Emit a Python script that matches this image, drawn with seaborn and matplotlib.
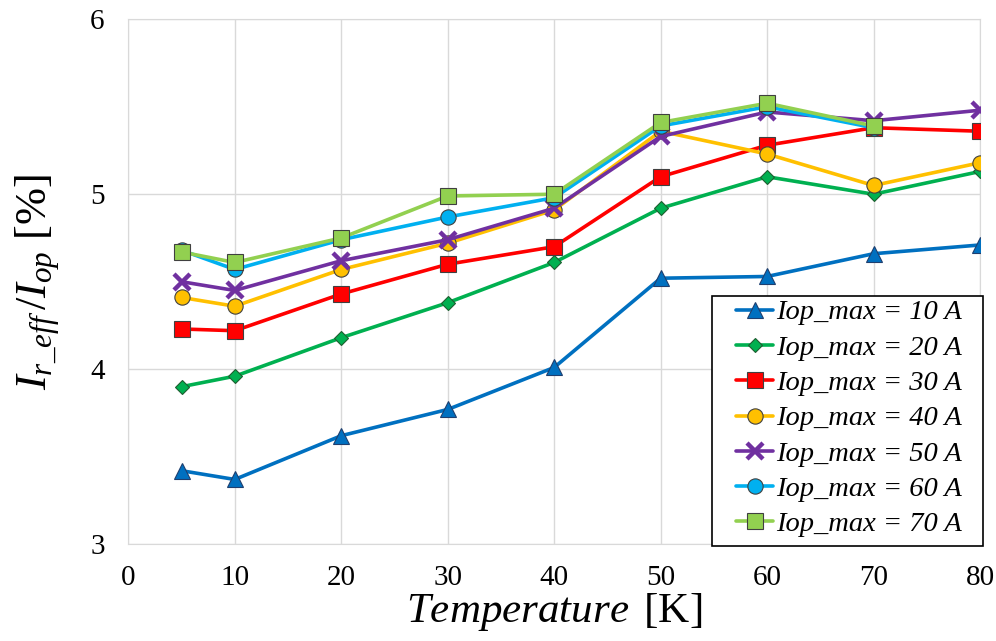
import numpy as np
import pandas as pd
import matplotlib
matplotlib.use("Agg")
import matplotlib.pyplot as plt
from matplotlib.patches import Rectangle
import seaborn as sns

# data
temps = [5, 10, 20, 30, 40, 50, 60, 70, 80]
iop_10 = [3.42, 3.37, 3.62, 3.77, 4.01, 4.52, 4.53, 4.66, 4.71]
iop_20 = [3.90, 3.96, 4.18, 4.38, 4.61, 4.92, 5.10, 5.00, 5.13]
iop_30 = [4.23, 4.22, 4.43, 4.60, 4.70, 5.10, 5.28, 5.38, 5.36]
iop_40 = [4.41, 4.36, 4.57, 4.72, 4.91, 5.36, 5.23, 5.05, 5.18]
iop_50 = [4.50, 4.45, 4.62, 4.74, 4.92, 5.33, 5.47, 5.42, 5.48]
iop_60 = [4.68, 4.57, 4.74, 4.87, 4.98, 5.39, 5.50, 5.38]
iop_70 = [4.67, 4.61, 4.75, 4.99, 5.00, 5.41, 5.52, 5.39]
labels = ["Iop_max = 10 A", "Iop_max = 20 A", "Iop_max = 30 A", "Iop_max = 40 A",
          "Iop_max = 50 A", "Iop_max = 60 A", "Iop_max = 70 A"]
series = [iop_10, iop_20, iop_30, iop_40, iop_50, iop_60, iop_70]

colors = ["#0070C0", "#00B050", "#FF0000", "#FFC000", "#7030A0", "#00B0F0", "#92D050"]
markers = ["^", "D", "s", "o", "x", "o", "s"]
msizes = [12, 7.5, 11, 11, 11, 11, 11]
mew = [0.8, 0.8, 0.8, 0.8, 3.2, 0.8, 0.8]
edges = ["#1F3F6F", "#1E5E30", "#404040", "#404040", "#7030A0", "#404040", "#404040"]

rows = []
for lab, vals in zip(labels, series):
    for t, v in zip(temps, vals):
        rows.append({"T": t, "val": v, "series": lab})
df = pd.DataFrame(rows)

sns.set_style("white")
plt.rcParams["font.family"] = ["Liberation Serif", "DejaVu Serif"]
plt.rcParams["mathtext.fontset"] = "custom"
plt.rcParams["mathtext.rm"] = "Liberation Serif"
plt.rcParams["mathtext.it"] = "Liberation Serif:italic"
plt.rcParams["text.color"] = "black"
plt.rcParams["axes.labelcolor"] = "black"
plt.rcParams["xtick.color"] = "black"
plt.rcParams["ytick.color"] = "black"

fig = plt.figure(figsize=(9.96, 6.41), dpi=100)
ax = fig.add_axes([0.1288, 0.151, 0.8552, 0.819])

for i, lab in enumerate(labels):
    sub = df[df.series == lab]
    sns.lineplot(data=sub, x="T", y="val", ax=ax, color=colors[i],
                 marker=markers[i], markersize=msizes[i],
                 markeredgecolor=edges[i], markeredgewidth=mew[i],
                 linewidth=2.6, label=lab, zorder=3 + i)

ax.set_xlim(0, 80)
ax.set_ylim(3, 6)
ax.set_xticks(np.arange(0, 81, 10))
ax.set_yticks([3, 4, 5, 6])
ax.grid(True, color="#d9d9d9", linewidth=1.0)
for s in ax.spines.values():
    s.set_color("#d9d9d9")
ax.tick_params(axis="x", length=0, labelsize=21, pad=15, labelcolor="black")
ax.tick_params(axis="y", length=0, labelsize=21, pad=17, labelcolor="black")
for lbl in ax.get_xticklabels() + ax.get_yticklabels():
    lbl.set_fontfamily("Liberation Serif")

ax.set_xlabel(r"$\mathit{Temperature}\ \,\mathrm{[K]}$", fontsize=31, labelpad=0,
              color="black")
ax.set_ylabel(r"$I_{r\_eff}\,/I_{op}$ [%]", fontsize=32, labelpad=20, color="black")

# legend content without frame, framed box drawn separately (Excel-like padding)
leg = ax.legend(loc="upper left", bbox_to_anchor=(0.714, 0.466),
                prop={"family": "Liberation Serif", "style": "italic", "size": 20.5},
                frameon=False, handlelength=1.3, handletextpad=0.1,
                labelspacing=0.33, borderpad=0, borderaxespad=0, labelcolor="black")
leg.set_zorder(21)
box = Rectangle((0.685, -0.003), 0.318, 0.475, transform=ax.transAxes,
                facecolor="white", edgecolor="black", linewidth=1.2,
                zorder=20, clip_on=False)
ax.add_patch(box)

fig.savefig("out.png", dpi=100)
